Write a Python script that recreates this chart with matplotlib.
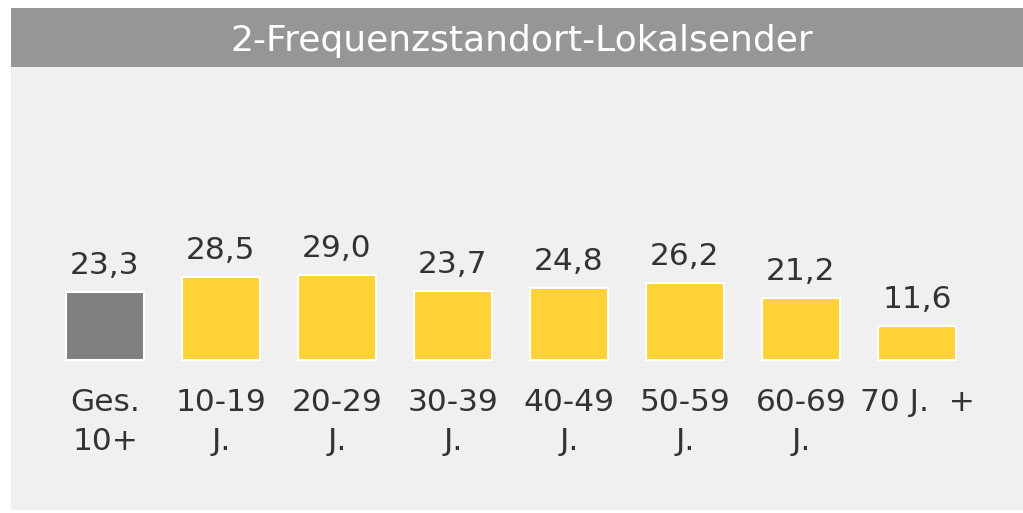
import matplotlib.pyplot as plt
from matplotlib.patches import Rectangle

# Daten
title = "2-Frequenzstandort-Lokalsender"
categories = ["Ges.\n10+", "10-19\nJ.", "20-29\nJ.", "30-39\nJ.", "40-49\nJ.",
              "50-59\nJ.", "60-69\nJ.", "70 J.  +"]
values = [23.3, 28.5, 29.0, 23.7, 24.8, 26.2, 21.2, 11.6]
bar_colors = ["#808080"] + ["#FFD238"] * 7

W, H = 1023, 513
fig = plt.figure(figsize=(W / 100, H / 100), dpi=100)
fig.patch.set_facecolor("white")

# Titelbalken
fig.patches.append(Rectangle((11 / W, (H - 67) / H), 1 - 11 / W, 59 / H,
                             transform=fig.transFigure, facecolor="#959695",
                             edgecolor="none", zorder=0))
fig.text(522 / W, (H - 41) / H, title, color="white", fontsize=26,
         ha="center", va="center")

# Diagrammfläche
ax = fig.add_axes([11 / W, 3 / H, 1 - 11 / W, (510 - 67) / H])
ax.set_facecolor("#F0F0F0")
x = list(range(len(values)))
ax.bar(x, values, width=0.664, color=bar_colors, edgecolor="white", linewidth=1.5)

for xi, v in zip(x, values):
    ax.annotate(f"{v:.1f}".replace(".", ","), (xi, v), xytext=(0, 13),
                textcoords="offset points", ha="center", va="baseline",
                fontsize=22.5, color="#333333")

for xi, lab in zip(x, categories):
    ax.text(xi, -9.6, lab, ha="center", va="top", fontsize=22.5,
            color="#333333", linespacing=1.45)

ax.set_xlim((11 - 105) / 116, (1023 - 105) / 116)
ax.set_ylim(-150 / 2.92, 293 / 2.92)
for s in ax.spines.values():
    s.set_visible(False)
ax.set_xticks([])
ax.set_yticks([])

fig.savefig("out.png", dpi=100)
